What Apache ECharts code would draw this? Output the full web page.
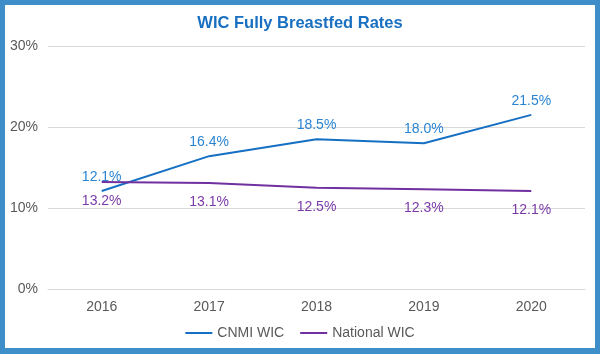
<!DOCTYPE html>
<html>
<head>
<meta charset="utf-8">
<script src="https://cdn.jsdelivr.net/npm/echarts@6/dist/echarts.min.js"></script>
<style>
  html, body { margin: 0; padding: 0; }
  body { width: 600px; height: 354px; background: #3d8ec9; position: relative; overflow: hidden; }
  #chart { position: absolute; left: 5px; top: 5px; width: 590px; height: 343px; background: #fff; }
</style>
</head>
<body>
<div id="chart"></div>
<script>
// data
var years = ['2016', '2017', '2018', '2019', '2020'];
var cnmiWic = [12.1, 16.4, 18.5, 18.0, 21.5];
var nationalWic = [13.2, 13.1, 12.5, 12.3, 12.1];
var seriesNames = ['CNMI WIC', 'National WIC'];

var textColor = '#595959';
var font = 'Liberation Sans, Arial, sans-serif';

var myChart = echarts.init(document.getElementById('chart'));
var options = {
  animation: false,
  textStyle: { fontFamily: font },
  title: {
    text: 'WIC Fully Breastfed Rates',
    left: 'center',
    top: 5,
    textStyle: { color: '#1a70c0', fontSize: 16.5, fontWeight: 'bold', fontFamily: font }
  },
  legend: {
    bottom: 3,
    left: 'center',
    itemWidth: 27,
    itemHeight: 2,
    itemGap: 16,
    icon: 'rect',
    textStyle: { color: textColor, fontSize: 14, fontFamily: font },
    data: seriesNames
  },
  grid: { left: 43, right: 10, top: 41, bottom: 59 },
  xAxis: {
    type: 'category',
    data: years,
    axisLine: { show: true, lineStyle: { color: '#d9d9d9' } },
    axisTick: { show: false },
    axisLabel: { color: textColor, fontSize: 14, margin: 11 }
  },
  yAxis: {
    type: 'value',
    min: 0,
    max: 30,
    interval: 10,
    axisLine: { show: false },
    axisTick: { show: false },
    splitLine: { lineStyle: { color: '#d9d9d9' } },
    axisLabel: { color: textColor, fontSize: 14, margin: 10, formatter: '{value}%' }
  },
  series: [
    {
      name: seriesNames[0],
      type: 'line',
      data: cnmiWic,
      symbol: 'circle',
      symbolSize: 0,
      lineStyle: { color: '#1570c4', width: 2 },
      itemStyle: { color: '#1570c4' },
      label: {
        show: true,
        position: 'top',
        distance: 7,
        color: '#2a84d2',
        fontSize: 14,
        formatter: function (p) { return p.value.toFixed(1) + '%'; }
      }
    },
    {
      name: seriesNames[1],
      type: 'line',
      data: nationalWic,
      symbol: 'circle',
      symbolSize: 0,
      lineStyle: { color: '#7030a0', width: 2 },
      itemStyle: { color: '#7030a0' },
      label: {
        show: true,
        position: 'bottom',
        distance: 12,
        color: '#7b3aa8',
        fontSize: 14,
        formatter: function (p) { return p.value.toFixed(1) + '%'; }
      }
    }
  ]
};
myChart.setOption(options);
</script>
</body>
</html>
